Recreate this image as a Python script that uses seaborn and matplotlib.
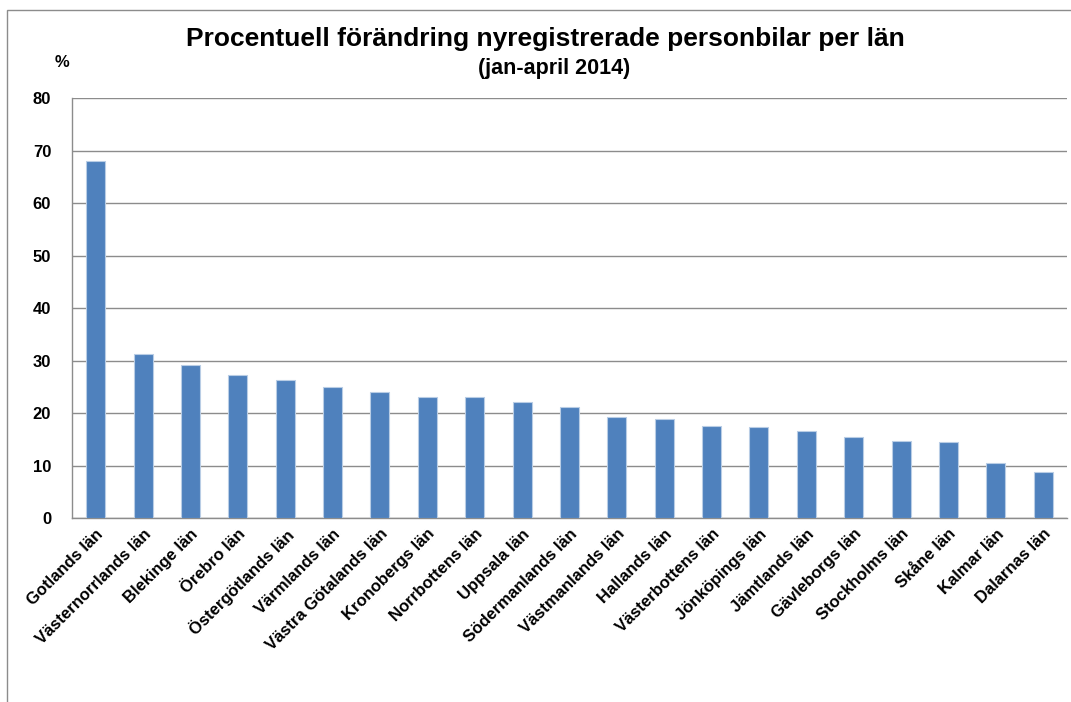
import matplotlib
matplotlib.use("Agg")
import matplotlib.pyplot as plt
import matplotlib.patches as mpatches
import seaborn as sns
import pandas as pd
import numpy as np

# Data
counties = [
    "Gotlands län", "Västernorrlands län", "Blekinge län", "Örebro län",
    "Östergötlands län", "Värmlands län", "Västra Götalands län", "Kronobergs län",
    "Norrbottens län", "Uppsala län", "Södermanlands län", "Västmanlands län",
    "Hallands län", "Västerbottens län", "Jönköpings län", "Jämtlands län",
    "Gävleborgs län", "Stockholms län", "Skåne län", "Kalmar län", "Dalarnas län",
]
change_pct = [68.0, 31.2, 29.1, 27.2, 26.2, 24.9, 24.0, 23.1, 23.0, 22.1,
              21.2, 19.2, 18.9, 17.5, 17.3, 16.5, 15.4, 14.6, 14.5, 10.5, 8.8]
y_ticks = [0, 10, 20, 30, 40, 50, 60, 70, 80]

df = pd.DataFrame({"lan": counties, "pct": change_pct})

sns.set_style("white")
plt.rcParams["font.family"] = ["Liberation Sans", "DejaVu Sans"]
plt.rcParams["text.color"] = "black"
plt.rcParams["xtick.color"] = "black"
plt.rcParams["ytick.color"] = "black"

fig = plt.figure(figsize=(10.71, 7.02), dpi=100)
ax = fig.add_axes([0.0672, 0.2621, 0.929, 0.5983])

sns.barplot(data=df, x="lan", y="pct", ax=ax, color="#4F81BD", saturation=1,
            width=0.4, edgecolor="#B9CDE5", linewidth=0.8, zorder=3)

ax.set_ylim(0, 80)
ax.set_xlim(-0.5, len(counties) - 0.5)
ax.set_yticks(y_ticks)
ax.set_yticklabels([str(t) for t in y_ticks], fontsize=12, fontweight="bold")
ax.yaxis.grid(True, color="#8C8C8C", linewidth=1.0, zorder=0)
ax.set_axisbelow(True)

# category labels with ticks between categories (Excel style)
ax.set_xticks(range(len(counties)))
ax.set_xticklabels(counties, rotation=45, ha="right", rotation_mode="anchor",
                   fontsize=12, fontweight="bold")
ax.tick_params(axis="x", length=0, pad=6)
ax.set_xticks(np.arange(-0.5, len(counties) + 0.5, 1), minor=True)
ax.tick_params(axis="x", which="minor", length=5, color="#8C8C8C", direction="out")
ax.tick_params(axis="y", length=5, color="#8C8C8C", labelcolor="black",
               direction="out", pad=10)

ax.set_xlabel("")
ax.set_ylabel("")
for side in ["top", "right"]:
    ax.spines[side].set_visible(False)
for side in ["left", "bottom"]:
    ax.spines[side].set_color("#8C8C8C")
    ax.spines[side].set_linewidth(1.0)

fig.text(0.509, 0.945, "Procentuell förändring nyregistrerade personbilar per län",
         ha="center", va="center", fontsize=19, fontweight="bold")
fig.text(0.517, 0.902, "(jan-april 2014)", ha="center", va="center",
         fontsize=15.5, fontweight="bold")
fig.text(0.058, 0.911, "%", ha="center", va="center", fontsize=12, fontweight="bold")

# outer chart frame (left and top edges visible)
frame = mpatches.Rectangle((7 / 1071, -0.05), 1.2, 1 - 10 / 702 + 0.05,
                           transform=fig.transFigure, fill=False,
                           edgecolor="#8C8C8C", linewidth=1.0)
fig.patches.append(frame)

fig.savefig("out.png", dpi=100)
